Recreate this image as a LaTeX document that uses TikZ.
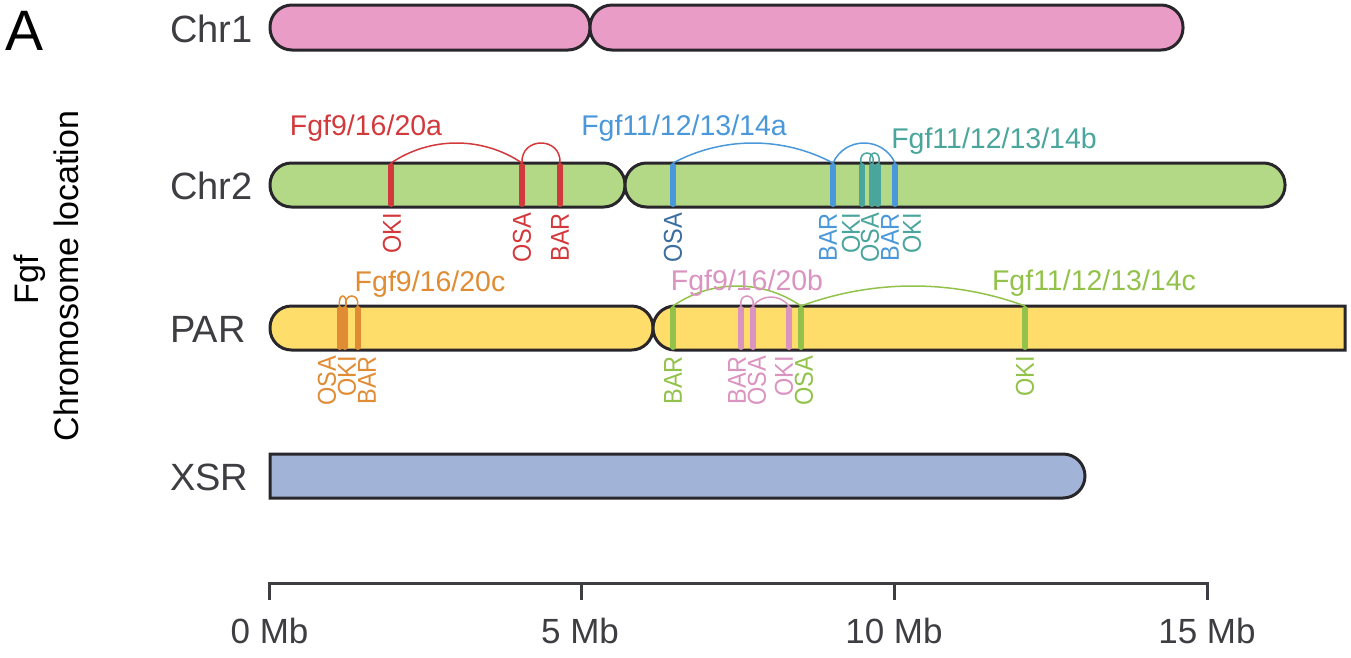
\documentclass[tikz,border=0pt]{standalone}
\usepackage{fontspec}
\setmainfont{Liberation Sans}
\definecolor{cOut}{HTML}{28262B}
\definecolor{cLab}{HTML}{3D3D42}
\definecolor{fChrA}{HTML}{E89CC6}
\definecolor{fChrB}{HTML}{B3D987}
\definecolor{fPAR}{HTML}{FEDD6B}
\definecolor{fXSR}{HTML}{A1B4D7}
\definecolor{gRed}{HTML}{D2393C}
\definecolor{gBlue}{HTML}{4A98D9}
\definecolor{gDBlue}{HTML}{3B6E9F}
\definecolor{gTeal}{HTML}{4AA59C}
\definecolor{gOrange}{HTML}{E08C35}
\definecolor{gPink}{HTML}{DB93C0}
\definecolor{gGreen}{HTML}{93C24B}
\newcommand\geneline[4]{\draw[geneln,#1] (#2,#3) -- (#2,#4);}
\newcommand\genearc[5]{%
  \pgfmathsetmacro\arcHalf{(#3-#2)/2}%
  \pgfmathsetmacro\arcOff{max((2/3)*(\arcHalf-(#5/\arcHalf)*#5),-0.5*\arcHalf)}%
  \pgfmathsetmacro\arcV{#4-4*#5/3}%
  \draw[arcln,#1] (#2,#4) .. controls ({#2+\arcOff},\arcV) and ({#3-\arcOff},\arcV) .. (#3,#4);}
\newcommand\vlab[4]{\node[vlabel,text=#1] at (#2,#3) {#4};}
\begin{document}
\begin{tikzpicture}[x=1pt,y=-1pt,
  chr/.style={draw=cOut,line width=3pt},
  geneln/.style={line width=6pt,line cap=round},
  arcln/.style={line width=1.5pt},
  vlabel/.style={rotate=90,yscale=1.1,anchor=east,inner sep=0pt,font=\fontsize{23.5}{26}\selectfont},
  famlabel/.style={anchor=base,inner sep=0pt,font=\fontsize{28.5}{32}\selectfont},
  chrlabel/.style={anchor=base west,inner sep=0pt,text=cLab,font=\fontsize{38}{42}\selectfont},
  axlabel/.style={anchor=base,inner sep=0pt,text=cLab,font=\fontsize{35}{40}\selectfont},
  axline/.style={draw=cLab,line width=3pt}]
\useasboundingbox (0,0) rectangle (1351,657);

% panel letter and y-axis title
\node[anchor=west,inner sep=0pt,font=\fontsize{57}{60}\selectfont] (pA) at (5,31) {A};
\node[rotate=90,inner sep=0pt,font=\fontsize{34}{38}\selectfont] (yl1) at (30,280) {Fgf};
\node[rotate=90,inner sep=0pt,font=\fontsize{34}{38}\selectfont] (yl2) at (66,276) {Chromosome location};

% chromosome labels
\node[chrlabel] (lChrA) at (170,42.5) {Chr1};
\node[chrlabel] (lChrB) at (170,199) {Chr2};
\node[chrlabel] (lPAR) at (170,342) {PAR};
\node[chrlabel] (lXSR) at (170,490) {XSR};

% chromosomes
\draw[chr,fill=fChrA,rounded corners=22pt] (270,5) rectangle (590,50);
\draw[chr,fill=fChrA,rounded corners=22pt] (590,5) rectangle (1183,50);
\draw[chr,fill=fChrB,rounded corners=21.5pt] (270,163) rectangle (625,207);
\draw[chr,fill=fChrB,rounded corners=21.5pt] (625,163) rectangle (1285,207);
\draw[chr,fill=fPAR,rounded corners=21.5pt] (270,306) rectangle (653,350);
\draw[chr,fill=fPAR] (675,306) -- (1345,306) -- (1345,350) -- (675,350)
  .. controls (662.85,350) and (653,340.15) .. (653,328)
  .. controls (653,315.85) and (662.85,306) .. (675,306) -- cycle;
\draw[chr,fill=fXSR] (270,454) -- (1063,454)
  .. controls (1075.15,454) and (1085,463.85) .. (1085,476)
  .. controls (1085,488.15) and (1075.15,498) .. (1063,498) -- (270,498) -- cycle;

% Chr2 genes
\geneline{gRed}{391}{166}{204}
\geneline{gRed}{522}{166}{204}
\geneline{gRed}{560}{166}{204}
\geneline{gBlue}{673}{166}{204}
\geneline{gBlue}{833}{166}{204}
\geneline{gBlue}{895}{166}{204}
\geneline{gTeal}{862}{166}{204}
\geneline{gTeal}{872}{166}{204}
\geneline{gTeal}{878}{166}{204}
\genearc{gRed}{391}{522}{163}{20}
\genearc{gRed}{522}{560}{163}{20}
\genearc{gBlue}{673}{833}{163}{20}
\genearc{gBlue}{833}{895}{163}{20}
\genearc{gTeal}{861}{873}{163}{10}
\genearc{gTeal}{870}{879}{163}{10}

% PAR genes
\geneline{gOrange}{339.5}{309}{347}
\geneline{gOrange}{344.5}{309}{347}
\geneline{gOrange}{357.5}{309}{347}
\geneline{gGreen}{673}{309}{347}
\geneline{gPink}{741}{309}{347}
\geneline{gPink}{753}{309}{347}
\geneline{gPink}{789}{309}{347}
\geneline{gGreen}{801}{309}{347}
\geneline{gGreen}{1025}{309}{347}
\genearc{gOrange}{339.5}{346}{306}{10}
\genearc{gOrange}{346}{357.5}{306}{10}
\genearc{gPink}{741}{753}{306}{10}
\genearc{gPink}{753}{789}{306}{9}
\genearc{gGreen}{673}{801}{306}{20}
\genearc{gGreen}{801}{1025}{306}{20}

% family labels
\node[famlabel,text=gRed] (fA) at (366,135) {Fgf9/16/20a};
\node[famlabel,text=gBlue] (fB) at (684,135) {Fgf11/12/13/14a};
\node[famlabel,text=gTeal] (fC) at (994,148) {Fgf11/12/13/14b};
\node[famlabel,text=gOrange] (fD) at (430,291) {Fgf9/16/20c};
\node[famlabel,text=gPink] (fE) at (747,290) {Fgf9/16/20b};
\node[famlabel,text=gGreen] (fF) at (1094,290) {Fgf11/12/13/14c};

% member labels Chr2
\vlab{gRed}{392}{213}{OKI}
\vlab{gRed}{522}{213}{OSA}
\vlab{gRed}{560}{213}{BAR}
\vlab{gDBlue}{673}{213}{OSA}
\vlab{gBlue}{828}{213}{BAR}
\vlab{gTeal}{851}{213}{OKI}
\vlab{gTeal}{870}{213}{OSA}
\vlab{gBlue}{890}{213}{BAR}
\vlab{gTeal}{912}{213}{OKI}

% member labels PAR
\vlab{gOrange}{327}{356}{OSA}
\vlab{gOrange}{347}{356}{OKI}
\vlab{gOrange}{367}{356}{BAR}
\vlab{gGreen}{673}{356}{BAR}
\vlab{gPink}{737}{356}{BAR}
\vlab{gPink}{757}{356}{OSA}
\vlab{gPink}{784}{356}{OKI}
\vlab{gGreen}{804}{356}{OSA}
\vlab{gGreen}{1025}{356}{OKI}

% axis
\coordinate (t0) at (269,583);
\coordinate (t5) at (581.5,583);
\coordinate (t10) at (894,583);
\coordinate (t15) at (1207,583);
\draw[axline] (269,600) -- (t0) -- (t15) -- (1207,600);
\draw[axline] (t5) -- (581.5,600);
\draw[axline] (t10) -- (894,600);
\node[axlabel] (a0) at (269.5,643) {0 Mb};
\node[axlabel] (a5) at (580,643) {5 Mb};
\node[axlabel] (a10) at (894,643) {10 Mb};
\node[axlabel] (a15) at (1207,643) {15 Mb};
\end{tikzpicture}
\end{document}
